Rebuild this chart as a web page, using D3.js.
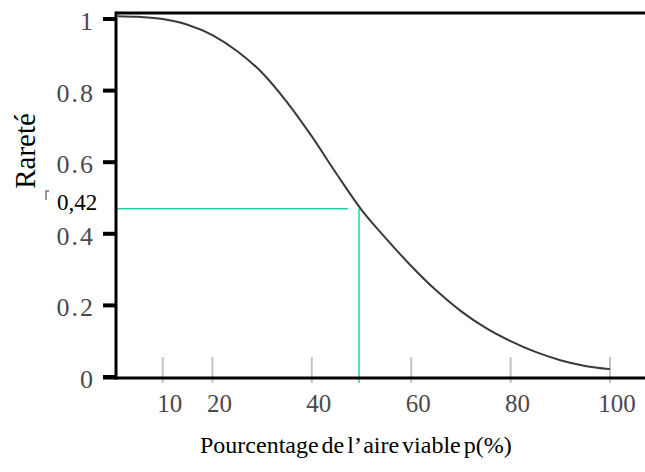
<!DOCTYPE html>
<html>
<head>
<meta charset="utf-8">
<script src="https://cdn.jsdelivr.net/npm/d3@7"></script>
<style>
  body { margin: 0; background: #fff; }
  text { font-family: "Liberation Serif", "Times New Roman", serif; }
</style>
</head>
<body>
<div id="chart"></div>
<script>
// values
const pct    = [1, 5, 10, 15, 20, 25, 30, 35, 40, 45, 50, 55, 60, 65, 70, 75, 80, 85, 90, 95, 100];
const rarity = [1.008, 1.006, 1.0, 0.984, 0.955, 0.91, 0.85, 0.768, 0.672, 0.567, 0.467, 0.386, 0.31, 0.242, 0.184, 0.137, 0.10, 0.07, 0.047, 0.031, 0.022];
const xTicks = [10, 20, 40, 60, 80, 100];
const yTicks = [0, 0.2, 0.4, 0.6, 0.8, 1];
const guideP = 49.5, guideR = 0.47, guideLabel = "0,42";

const W = 645, H = 472;

const svg = d3.select("#chart")
    .append("svg")
    .attr("width", W)
    .attr("height", H);

const x = d3.scaleLinear().domain([0, 100]).range([113, 610]);
const y = d3.scaleLinear().domain([0, 1]).range([377, 19]);

const axisX = 116, axisY = 378, topY = 13;

// green guide lines
svg.append("line")
    .attr("x1", axisX).attr("x2", x(guideP) - 11)
    .attr("y1", y(guideR)).attr("y2", y(guideR))
    .attr("stroke", "#22d3a5").attr("stroke-width", 1.5);
svg.append("line")
    .attr("x1", x(guideP)).attr("x2", x(guideP))
    .attr("y1", y(guideR)).attr("y2", axisY + 5)
    .attr("stroke", "#22d3a5").attr("stroke-width", 1.5);

// gray x ticks
svg.selectAll(".xtick")
    .data(xTicks)
    .join("line")
    .attr("x1", d => x(d)).attr("x2", d => x(d))
    .attr("y1", 357).attr("y2", 383)
    .attr("stroke", "#c4c4c4").attr("stroke-width", 2);

// curve
const line = d3.line()
    .x(d => x(d[0]))
    .y(d => y(d[1]))
    .curve(d3.curveMonotoneX);
svg.append("path")
    .datum(pct.map((p, i) => [p, rarity[i]]))
    .attr("fill", "none")
    .attr("stroke", "#3a3a3a")
    .attr("stroke-width", 2)
    .attr("d", line);

// frame: left axis, bottom axis, top line
svg.append("line").attr("x1", axisX).attr("x2", axisX).attr("y1", topY - 1.5).attr("y2", axisY + 1.5)
    .attr("stroke", "#000").attr("stroke-width", 3);
svg.append("line").attr("x1", 103).attr("x2", W).attr("y1", axisY).attr("y2", axisY)
    .attr("stroke", "#000").attr("stroke-width", 3);
svg.append("line").attr("x1", axisX).attr("x2", W).attr("y1", topY).attr("y2", topY)
    .attr("stroke", "#000").attr("stroke-width", 3);

// y ticks
svg.selectAll(".ytick")
    .data(yTicks)
    .join("rect")
    .attr("x", 103).attr("width", 13)
    .attr("y", d => y(d) - 2).attr("height", 4)
    .attr("fill", "#000");

svg.selectAll(".ylab")
    .data(yTicks)
    .join("text")
    .attr("x", 95)
    .attr("y", d => y(d) + 11)
    .attr("text-anchor", "end")
    .attr("font-size", 26)
    .attr("letter-spacing", 2)
    .attr("fill", "#4a4a4a")
    .text(d => d3.format("")(d));

svg.selectAll(".xlab")
    .data(xTicks)
    .join("text")
    .attr("x", d => x(d) + 7)
    .attr("y", 412)
    .attr("text-anchor", "middle")
    .attr("font-size", 25)
    .attr("fill", "#4a4a4a")
    .text(d => d);

// guide label
svg.append("text")
    .attr("x", 57).attr("y", 210)
    .attr("font-size", 23)
    .attr("fill", "#000")
    .text(guideLabel);
svg.append("path")
    .attr("d", "M46,200V191H49")
    .attr("fill", "none")
    .attr("stroke", "#777").attr("stroke-width", 1.5);

// axis titles
svg.append("text")
    .attr("transform", "translate(35,151) rotate(-90)")
    .attr("text-anchor", "middle")
    .attr("font-size", 29)
    .attr("fill", "#000")
    .text("Rareté");

svg.append("text")
    .attr("x", 200).attr("y", 453)
    .attr("font-size", 24)
    .attr("word-spacing", -3)
    .attr("fill", "#000")
    .text("Pourcentage de l’ aire viable p(%)");
</script>
</body>
</html>
